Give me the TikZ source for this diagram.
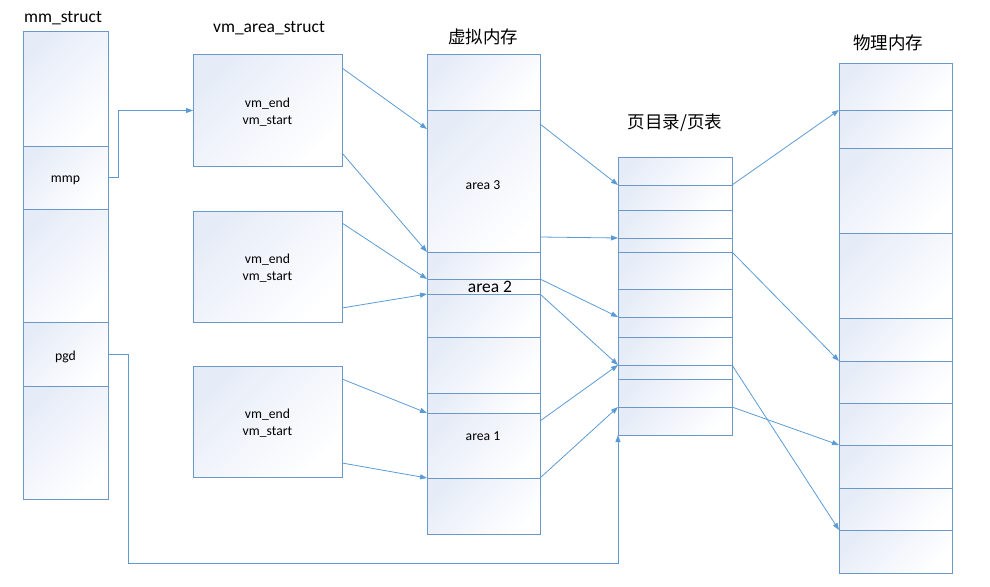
\documentclass[tikz,border=0pt]{standalone}
\usepackage{fontspec}
\setmainfont{Carlito}
\newfontfamily\cjk{Noto Sans CJK SC}
\usetikzlibrary{arrows.meta}
\definecolor{boxc}{RGB}{108,152,200}
\definecolor{gfill}{RGB}{230,236,247}
\definecolor{connc}{RGB}{91,155,213}
\newcommand\lowered[1]{\raisebox{-2.5pt}[\height][\depth]{#1}}
\newcommand\twolines[2]{\raisebox{-2.5pt}[\height][\depth]{\begin{tabular}{@{}c@{}}#1\\#2\end{tabular}}}
\tikzset{
  cell/.style={draw=boxc, line width=1pt, top color=gfill, bottom color=white, shading angle=45,
    inner sep=0pt, outer sep=0pt, anchor=north west,
    font=\fontsize{13.7}{17}\selectfont},
  conn/.style={draw=connc, line width=0.8pt, -{Triangle[length=7pt,width=5pt]}},
  titletext/.style={font=\fontsize{17.5}{20}\selectfont, inner sep=0pt},
  smalltext/.style={font=\fontsize{13.7}{17}\selectfont, inner sep=0pt}
}
\begin{document}
\begin{tikzpicture}[x=1pt,y=-1pt]
\useasboundingbox (0,0) rectangle (990,586);
% titles
\node[titletext] (t1) at (63,18.5) {mm\_struct};
\node[titletext] (t2) at (269,28.5) {vm\_area\_struct};
\node[titletext] (t3) at (483,36.5) {\cjk 虚拟内存};
\node[titletext] (t4) at (675,122.5) {\cjk 页目录/页表};
\node[titletext] (t5) at (888,43) {\cjk 物理内存};
% mm_struct column
\node[cell, minimum width=85pt, minimum height=114pt] (m1) at (23,32) {};
\node[cell, minimum width=85pt, minimum height=63pt] (m2) at (23,146) {\lowered{mmp}};
\node[cell, minimum width=85pt, minimum height=113pt] (m3) at (23,209) {};
\node[cell, minimum width=85pt, minimum height=64pt] (m4) at (23,322) {\lowered{pgd}};
\node[cell, minimum width=85pt, minimum height=113pt] (m5) at (23,386) {};
% vm_area_struct boxes
\node[cell, minimum width=149pt, minimum height=111pt] (vb1) at (193,55) {\twolines{vm\_end}{vm\_start}};
\node[cell, minimum width=149pt, minimum height=111pt] (vb2) at (193,211) {\twolines{vm\_end}{vm\_start}};
\node[cell, minimum width=149pt, minimum height=111pt] (vb3) at (193,366) {\twolines{vm\_end}{vm\_start}};
% virtual memory column
\node[cell, minimum width=113pt, minimum height=55pt] (v1) at (427,55) {};
\node[cell, minimum width=113pt, minimum height=142pt] (v2) at (427,110) {};
\node[cell, minimum width=113pt, minimum height=27pt] (v3) at (427,252) {};
\node[cell, minimum width=113pt, minimum height=15pt] (v4) at (427,279) {};
\node[cell, minimum width=113pt, minimum height=43pt] (v5) at (427,294) {};
\node[cell, minimum width=113pt, minimum height=56pt] (v6) at (427,337) {};
\node[cell, minimum width=113pt, minimum height=20pt] (v7) at (427,393) {};
\node[cell, minimum width=113pt, minimum height=65pt] (v8) at (427,413) {};
\node[cell, minimum width=113pt, minimum height=56pt] (v9) at (427,478) {};
\node[smalltext] (a3) at (483,185) {area 3};
\node[titletext] (a2) at (490,287) {area 2};
\node[smalltext] (a1) at (483,436.5) {area 1};
% page table column
\node[cell, minimum width=114pt, minimum height=28pt] (p1) at (618,157) {};
\node[cell, minimum width=114pt, minimum height=25pt] (p2) at (618,185) {};
\node[cell, minimum width=114pt, minimum height=28pt] (p3) at (618,210) {};
\node[cell, minimum width=114pt, minimum height=14pt] (p4) at (618,238) {};
\node[cell, minimum width=114pt, minimum height=37pt] (p5) at (618,252) {};
\node[cell, minimum width=114pt, minimum height=28pt] (p6) at (618,289) {};
\node[cell, minimum width=114pt, minimum height=20pt] (p7) at (618,317) {};
\node[cell, minimum width=114pt, minimum height=28pt] (p8) at (618,337) {};
\node[cell, minimum width=114pt, minimum height=14pt] (p9) at (618,365) {};
\node[cell, minimum width=114pt, minimum height=28pt] (p10) at (618,379) {};
\node[cell, minimum width=114pt, minimum height=28pt] (p11) at (618,407) {};
% physical memory column
\node[cell, minimum width=113pt, minimum height=46pt] (f1) at (839,64) {};
\node[cell, minimum width=113pt, minimum height=38pt] (f2) at (839,110) {};
\node[cell, minimum width=113pt, minimum height=85pt] (f3) at (839,148) {};
\node[cell, minimum width=113pt, minimum height=85pt] (f4) at (839,233) {};
\node[cell, minimum width=113pt, minimum height=43pt] (f5) at (839,318) {};
\node[cell, minimum width=113pt, minimum height=42pt] (f6) at (839,361) {};
\node[cell, minimum width=113pt, minimum height=42pt] (f7) at (839,403) {};
\node[cell, minimum width=113pt, minimum height=43pt] (f8) at (839,445) {};
\node[cell, minimum width=113pt, minimum height=42pt] (f9) at (839,488) {};
\node[cell, minimum width=113pt, minimum height=43pt] (f10) at (839,530) {};
% connectors
\coordinate (mmpturn) at (118,177);
\draw[conn] (m2.east) -- (mmpturn |- m2.east) |- (vb1.west);
\coordinate (pgdturn) at (128,563);
\draw[conn] (m4.east) -- (pgdturn |- m4.east) -- (pgdturn) -| (p11.south west);
\draw[conn] ([yshift=-13pt]vb1.north east) -- ([yshift=-19pt]v2.north west);
\draw[conn] ([yshift=13pt]vb1.south east) -- (v3.north west);
\draw[conn] ([yshift=-12pt]vb2.north east) -- (v4.north west);
\draw[conn] ([yshift=14pt]vb2.south east) -- (v5.north west);
\draw[conn] ([yshift=-13pt]vb3.north east) -- (v8.north west);
\draw[conn] ([yshift=14pt]vb3.south east) -- (v9.north west);
\draw[conn] ([yshift=-14pt]v2.north east) -- (p2.north west);
\draw[conn] ([yshift=15pt]v2.south east) -- (p4.north west);
\draw[conn] (v4.north east) -- (p7.north west);
\draw[conn] (v5.north east) -- (p9.north west);
\draw[conn] ([yshift=-8pt]v8.north east) -- (p9.north west);
\draw[conn] (v9.north east) -- (p11.north west);
\draw[conn] (p2.north east) -- (f2.north west);
\draw[conn] (p5.north east) -- (f6.north west);
\draw[conn] (p9.north east) -- (f10.north west);
\draw[conn] (p11.north east) -- (f8.north west);
\end{tikzpicture}
\end{document}
